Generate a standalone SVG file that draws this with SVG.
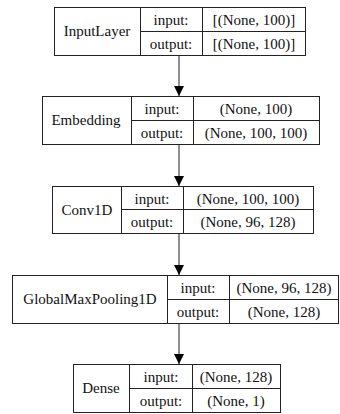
<svg xmlns="http://www.w3.org/2000/svg" width="340" height="414" viewBox="0 0 340 414">
<style>
.box{fill:#fff;stroke:#222;stroke-width:1}
.ln{stroke:#222;stroke-width:1;fill:none}
.t{font-family:"Liberation Serif","DejaVu Serif",Times,serif;font-size:15px;fill:#111;text-anchor:middle}
.edge{stroke:#444;stroke-width:1.2;fill:none}
</style>
<defs>
<marker id="ah" viewBox="0 0 10 10" refX="10" refY="5" markerWidth="10" markerHeight="10" markerUnits="userSpaceOnUse" orient="auto">
<path d="M0,0 L10,5 L0,10 z" fill="#000"/>
</marker>
</defs>
<rect width="340" height="414" fill="#fff"/>
<g id="connectors">
<line class="edge" x1="179" y1="55" x2="179" y2="96" marker-end="url(#ah)"/>
<line class="edge" x1="179" y1="144" x2="179" y2="186" marker-end="url(#ah)"/>
<line class="edge" x1="179" y1="233" x2="179" y2="275" marker-end="url(#ah)"/>
<line class="edge" x1="179" y1="323" x2="179" y2="364" marker-end="url(#ah)"/>
</g>
<g id="InputLayer" class="t">
<rect class="box" x="54.5" y="7.5" width="251" height="48"/>
<path class="ln" d="M140.5,7.5V55.5M202.5,7.5V55.5M140.5,31.5H305.5"/>
<text x="97" y="36">InputLayer</text>
<text x="171" y="25">input:</text>
<text x="171" y="49">output:</text>
<text x="254" y="25">[(None, 100)]</text>
<text x="254" y="49">[(None, 100)]</text>
</g>
<g id="Embedding" class="t">
<rect class="box" x="42.5" y="96.5" width="277" height="48"/>
<path class="ln" d="M131.5,96.5V144.5M193.5,96.5V144.5M131.5,120.5H319.5"/>
<text x="86" y="125">Embedding</text>
<text x="162" y="114">input:</text>
<text x="162" y="138">output:</text>
<text x="256" y="114">(None, 100)</text>
<text x="256" y="138">(None, 100, 100)</text>
</g>
<g id="Conv1D" class="t">
<rect class="box" x="52.5" y="186.5" width="261" height="47"/>
<path class="ln" d="M121.5,186.5V233.5M183.5,186.5V233.5M121.5,209.5H313.5"/>
<text x="87" y="215">Conv1D</text>
<text x="152" y="204">input:</text>
<text x="152" y="227">output:</text>
<text x="248" y="204">(None, 100, 100)</text>
<text x="248" y="227">(None, 96, 128)</text>
</g>
<g id="GlobalMaxPooling1D" class="t">
<rect class="box" x="12.5" y="275.5" width="326" height="48"/>
<path class="ln" d="M167.5,275.5V323.5M229.5,275.5V323.5M167.5,299.5H338.5"/>
<text x="90" y="304">GlobalMaxPooling1D</text>
<text x="198" y="293">input:</text>
<text x="198" y="317">output:</text>
<text x="284" y="293">(None, 96, 128)</text>
<text x="284" y="317">(None, 128)</text>
</g>
<g id="Dense" class="t">
<rect class="box" x="73.5" y="364.5" width="207" height="48"/>
<path class="ln" d="M129.5,364.5V412.5M192.5,364.5V412.5M129.5,388.5H280.5"/>
<text x="101" y="393">Dense</text>
<text x="161" y="382">input:</text>
<text x="161" y="406">output:</text>
<text x="236" y="382">(None, 128)</text>
<text x="236" y="406">(None, 1)</text>
</g>
</svg>
